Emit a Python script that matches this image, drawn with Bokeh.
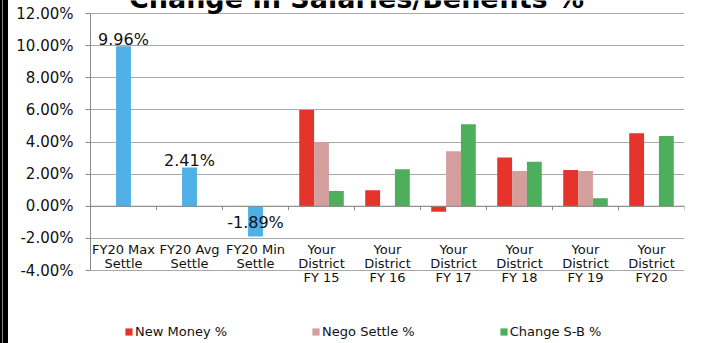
from bokeh.plotting import figure
from bokeh.models import (Range1d, FixedTicker, PrintfTickFormatter, ColumnDataSource,
                          LabelSet, Label, Legend, LegendItem, Div)
from bokeh.layouts import row
from bokeh.core.properties import value
from bokeh.embed import file_html
from bokeh.resources import INLINE

# ---------------- data ----------------
categories = ["FY20 Max\nSettle", "FY20 Avg\nSettle", "FY20 Min\nSettle",
              "Your\nDistrict\nFY 15", "Your\nDistrict\nFY 16", "Your\nDistrict\nFY 17",
              "Your\nDistrict\nFY 18", "Your\nDistrict\nFY 19", "Your\nDistrict\nFY20"]
settle = [9.96, 2.41, -1.89, None, None, None, None, None, None]
new_money = [None, None, None, 6.00, 1.00, -0.35, 3.04, 2.25, 4.54]
nego_settle = [None, None, None, 4.00, None, 3.42, 2.19, 2.19, None]
change_sb = [None, None, None, 0.95, 2.30, 5.10, 2.77, 0.50, 4.38]
series_names = ["New Money %", "Nego Settle %", "Change S-B %"]
y_ticks = [-4, -2, 0, 2, 4, 6, 8, 10, 12]
title_text = "Change in Salaries/Benefits %"

# ---------------- style ----------------
BLUE = "#4FB0E8"
RED = "#E5342B"
PINK = "#D39E9C"
GREEN = "#4DAE5B"
GRID = "#A8A8A8"
AXIS = "#8A8A8A"
FONT = "DejaVu Sans"

n = len(categories)
ymin, ymax = y_ticks[0], y_ticks[-1]
FIG_W, FIG_H = 694, 343
B_LEFT, B_RIGHT = 82, 18
TOP_PX, BOTTOM_PX = 13, 73          # space above 12% and below -4% (inside the frame)
px_per_unit = (FIG_H - TOP_PX - BOTTOM_PX) / (ymax - ymin)
y_lo = ymin - BOTTOM_PX / px_per_unit
y_hi = ymax + TOP_PX / px_per_unit
bar_w = 0.225
line_px = 14

p = figure(width=FIG_W, height=FIG_H, output_backend="svg", toolbar_location=None,
           x_range=Range1d(0, n), y_range=Range1d(y_lo, y_hi))
p.min_border_left = B_LEFT
p.min_border_right = B_RIGHT
p.min_border_top = 0
p.min_border_bottom = 0
p.outline_line_color = None
p.background_fill_color = "white"
p.border_fill_color = "white"

p.xaxis.visible = False
p.xgrid.visible = False

p.yaxis.ticker = FixedTicker(ticks=y_ticks)
p.yaxis.bounds = (ymin, ymax)
p.yaxis.formatter = PrintfTickFormatter(format="%.2f%%")
p.yaxis.axis_line_color = AXIS
p.yaxis.major_tick_line_color = AXIS
p.yaxis.major_tick_out = 5
p.yaxis.major_tick_in = 0
p.yaxis.minor_tick_line_color = None
p.yaxis.major_label_standoff = 12
p.yaxis.major_label_text_font = FONT
p.yaxis.major_label_text_font_size = "15px"
p.yaxis.major_label_text_color = "#111111"
p.ygrid.ticker = FixedTicker(ticks=y_ticks)
p.ygrid.grid_line_color = GRID
p.ygrid.grid_line_width = 1


def bars(vals, offset, color):
    xs = [i + 0.5 + offset for i, v in enumerate(vals) if v is not None]
    tops = [v for v in vals if v is not None]
    src = ColumnDataSource(dict(x=xs, top=tops))
    return p.vbar(x="x", top="top", bottom=0, width=bar_w, source=src,
                  fill_color=color, line_color=None)


bars(settle, 0.0, BLUE)
r_new = bars(new_money, -bar_w, RED)
r_nego = bars(nego_settle, 0.0, PINK)
r_chg = bars(change_sb, bar_w, GREEN)

# zero axis line with tick marks at category boundaries
p.segment(x0=[0], y0=[0], x1=[n], y1=[0], line_color=AXIS, line_width=1)
bounds = list(range(1, n + 1))
p.segment(x0=bounds, y0=[0] * len(bounds), x1=bounds, y1=[-4 / px_per_unit] * len(bounds),
          line_color=AXIS, line_width=1)

# data labels for settle values
lx, ly, lt = [], [], []
for i, v in enumerate(settle):
    if v is None:
        continue
    lx.append(i + 0.5)
    ly.append(v + (7 if v >= 0 else 14) / px_per_unit)
    lt.append(f"{v:.2f}%")
p.text(x=lx, y=ly, text=lt, text_align="center", text_baseline="alphabetic",
       text_font=value(FONT), text_font_size="16px", text_color="#111111")

# category labels, one centred label per line
cx, cy, ct = [], [], []
for i, cat in enumerate(categories):
    for k, line in enumerate(cat.split("\n")):
        cx.append(i + 0.5)
        cy.append(-2.2 - k * line_px / px_per_unit)
        ct.append(line)
cat_src = ColumnDataSource(dict(x=cx, y=cy, text=ct))
p.add_layout(LabelSet(x="x", y="y", text="text", source=cat_src,
                      text_align="center", text_baseline="top",
                      text_font=value(FONT), text_font_size="13px",
                      text_color="#111111"))

# title (cut off at the top in the reference)
p.add_layout(Label(x=(356 - 90) / 66, y=ymax + 15 / px_per_unit, text=title_text,
                   text_align="center", text_baseline="alphabetic",
                   text_font=FONT, text_font_style="bold", text_font_size="27px",
                   text_color="black"))

legend = Legend(items=[LegendItem(label=series_names[0], renderers=[r_new]),
                       LegendItem(label=series_names[1], renderers=[r_nego]),
                       LegendItem(label=series_names[2], renderers=[r_chg])],
                location=(34, 4), orientation="horizontal",
                glyph_width=9, glyph_height=9, label_height=14, label_standoff=2,
                spacing=84, padding=0, margin=0,
                border_line_color=None, background_fill_alpha=0,
                label_text_font=FONT, label_text_font_size="13px",
                label_text_color="#111111")
p.add_layout(legend)

edge = Div(width=8, height=FIG_H, margin=(0, 0, 0, 0), text="",
           styles={"background": "linear-gradient(to right, #000 0px, #000 2px, #888 2px, #888 3px, #000 3px, #000 8px)"})

layout = row(edge, p, spacing=0)
open("out.html", "w").write(file_html(layout, INLINE))
